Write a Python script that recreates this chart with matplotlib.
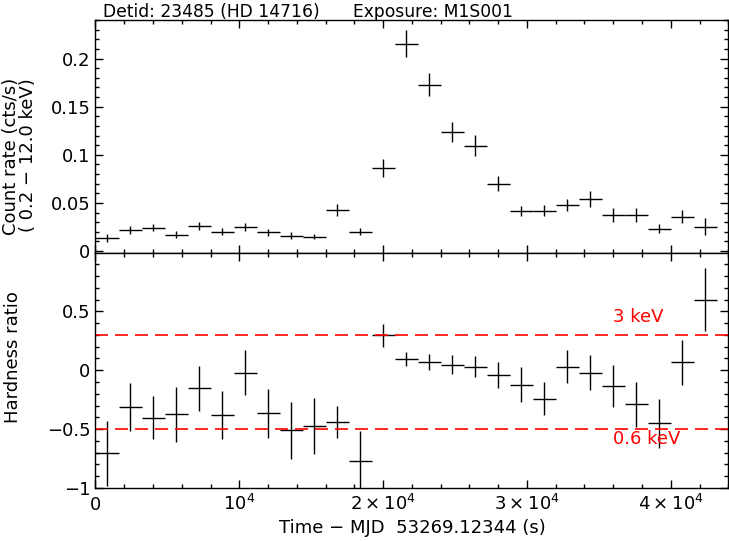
import numpy as np
import matplotlib
matplotlib.use("Agg")
import matplotlib.pyplot as plt
from matplotlib.ticker import MultipleLocator
from matplotlib.transforms import blended_transform_factory

# bin centres (s) and half-widths
t = [800, 2400, 4000, 5600, 7200, 8800, 10400, 12000, 13600, 15200, 16800, 18400,
     20000, 21600, 23200, 24800, 26400, 28000, 29600, 31200, 32800, 34400, 36000,
     37600, 39200, 40800, 42400]
t_err = 800

rate = [0.0134, 0.022, 0.0244, 0.0172, 0.0261, 0.0203, 0.0251, 0.0196, 0.0162, 0.0151,
        0.0426, 0.0203, 0.0863, 0.2155, 0.1729, 0.1241, 0.1096, 0.0701, 0.0416, 0.0419,
        0.0478, 0.054, 0.0375, 0.0375, 0.0234, 0.0357, 0.0254]
rate_err = [0.004, 0.004, 0.004, 0.0035, 0.004, 0.0038, 0.004, 0.0035, 0.0035, 0.003,
            0.006, 0.004, 0.0095, 0.0137, 0.012, 0.0105, 0.0107, 0.008, 0.0055, 0.0055,
            0.006, 0.008, 0.007, 0.007, 0.005, 0.007, 0.009]

hr = [-0.705, -0.3125, -0.403, -0.375, -0.153, -0.38, -0.02, -0.366, -0.511, -0.474,
      -0.443, -0.767, 0.298, 0.097, 0.068, 0.045, 0.031, -0.04, -0.122, -0.244,
      0.031, -0.02, -0.134, -0.29, -0.452, 0.068, 0.60]
hr_err = [0.275, 0.2, 0.185, 0.236, 0.19, 0.207, 0.19, 0.21, 0.24, 0.24,
          0.135, 0.25, 0.097, 0.06, 0.07, 0.08, 0.088, 0.11, 0.146, 0.14,
          0.137, 0.152, 0.176, 0.19, 0.21, 0.19, 0.267]

hr_lines = [0.3, -0.5]
hr_line_labels = ["3 keV", "0.6 keV"]

xticks = [0, 10000, 20000, 30000, 40000]
xticklabels = ["0", r"$10^4$", r"$2\times10^4$", r"$3\times10^4$", r"$4\times10^4$"]

plt.rcParams['font.family'] = ['DejaVu Sans']
plt.rcParams['font.size'] = 13
plt.rcParams['mathtext.fontset'] = 'dejavusans'

fig = plt.figure(figsize=(7.29, 5.41), dpi=100)
ax1 = fig.add_axes([0.131, 0.5323, 0.868, 0.4307])
ax2 = fig.add_axes([0.131, 0.098, 0.868, 0.4343], sharex=ax1)

ax1.errorbar(t, rate, xerr=t_err, yerr=rate_err, fmt='none', ecolor='black', elinewidth=1.0)
ax2.errorbar(t, hr, xerr=t_err, yerr=hr_err, fmt='none', ecolor='black', elinewidth=1.0)

for y in hr_lines:
    ax2.axhline(y, color='red', lw=1.2, dashes=(7.8, 4.2))
for y, lab in zip([0.407, -0.627], hr_line_labels):
    ax2.text(36000, y, lab, color='red', ha='left', va='baseline')

ax1.set_xlim(0, 44000)
ax1.set_ylim(-0.002, 0.24)
ax2.set_ylim(-1, 0.995)

for ax in (ax1, ax2):
    ax.xaxis.set_minor_locator(MultipleLocator(2000))
    ax.tick_params(which='both', direction='in', top=True, right=True, width=1.0)
    ax.tick_params(which='major', length=5.5)
    ax.tick_params(which='minor', length=3.0)
    ax.tick_params(axis='y', pad=3.6)
    for s in ax.spines.values():
        s.set_linewidth(1.0)

ax2.set_xticks(xticks, xticklabels, va='baseline')
ax2.tick_params(axis='x', pad=15.8)
ax1.tick_params(labelbottom=False)

ax1.set_yticks([0, 0.05, 0.1, 0.15, 0.2], ["0", "0.05", "0.1", "0.15", "0.2"])
ax1.yaxis.set_minor_locator(MultipleLocator(0.01))
ax2.set_yticks([-1, -0.5, 0, 0.5], ["\u22121", "\u22120.5", "0", "0.5"])
ax2.yaxis.set_minor_locator(MultipleLocator(0.1))

# axis labels
fig.text(11 / 729, 1 - 78 / 541, "Count rate (cts/s)", rotation=90, ha='center', va='top')
fig.text(28 / 729, 1 - 78 / 541, "( 0.2 \u2212 12.0 keV)", rotation=90, ha='center', va='top')
fig.text(12.8 / 729, 1 - 357.5 / 541, "Hardness ratio", rotation=90, ha='center', va='center')
fig.text(ax2.get_position().x0 + ax2.get_position().width / 2, 1 - 533 / 541,
         "Time \u2212 MJD  53269.12344 (s)", ha='center', va='baseline')

# header
trans = blended_transform_factory(ax1.transData, fig.transFigure)
fig.text(550, 1 - 17 / 541, "Detid: 23485 (HD 14716)", ha='left', va='baseline',
         transform=trans, fontsize=12.3)
fig.text(17900, 1 - 17 / 541, "Exposure: M1S001", ha='left', va='baseline',
         transform=trans, fontsize=12.3)

fig.savefig("out.png", dpi=100)
